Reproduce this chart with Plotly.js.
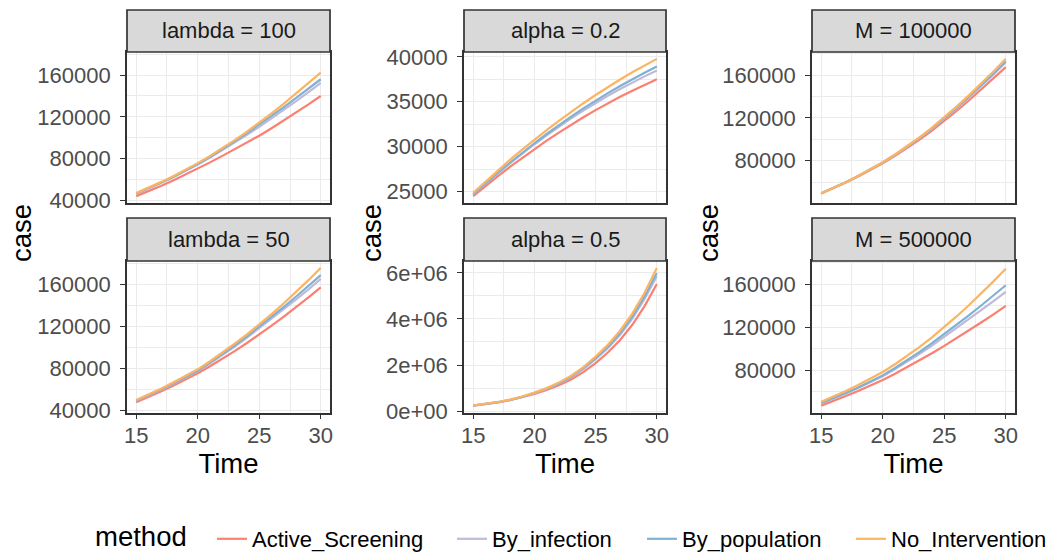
<!DOCTYPE html>
<html><head><meta charset="utf-8">
<script src="https://cdn.plot.ly/plotly-3.0.1.min.js"></script>
<style>html,body{margin:0;padding:0;background:#fff;}#chart{width:1046px;height:552px;}</style>
</head><body><div id="chart"></div>
<script>
const time = [15,16,17,18,19,20,21,22,23,24,25,26,27,28,29,30];
const methods = ['Active_Screening','By_infection','By_population','No_Intervention'];
const methodColors = ['#FB8072','#BEBADA','#80B1D3','#FDB462'];
const legendTitle = 'method';
const facetLabels = ['lambda = 100','lambda = 50','alpha = 0.2','alpha = 0.5','M = 100000','M = 500000'];
const alpha05TickVals = [0, 2000000, 4000000, 6000000];
const alpha05TickText = ['0e+00','2e+06','4e+06','6e+06'];

const lambda100_Active = [44200,48900,53900,59200,64700,70500,76500,82700,89000,95400,102000,109100,116500,124100,131900,140000];
const lambda100_Infection = [46500,51400,56700,62300,68200,74500,81200,88200,95400,102800,110500,118400,126600,135000,143600,152500];
const lambda100_Population = [46800,51700,57000,62600,68600,75000,81900,89100,96600,104400,112500,120800,129400,138100,147000,156000];
const lambda100_None = [47300,52300,57600,63200,69300,75800,82700,90000,97800,106000,114500,123400,132700,142300,152200,162400];

const lambda50_Active = [47500,52400,57600,63100,68900,75000,81700,88800,96200,103900,112000,120400,129100,138100,147400,157000];
const lambda50_Infection = [48800,53800,59200,64900,70800,77000,84400,92200,100400,109000,118000,126900,136100,145500,155100,165000];
const lambda50_Population = [49000,54100,59500,65200,71200,77500,85100,93100,101500,110300,119500,128800,138400,148200,158200,168600];
const lambda50_None = [49500,54700,60300,66200,72300,78800,86500,94700,103200,112100,121500,131400,141800,152600,163800,175500];

const alpha02_Active = [24490,25610,26690,27740,28750,29730,30670,31570,32440,33270,34070,34830,35550,36240,36890,37510];
const alpha02_Infection = [24670,25870,27030,28150,29230,30270,31270,32230,33150,34030,34870,35670,36430,37150,37830,38470];
const alpha02_Population = [24670,25890,27070,28210,29320,30380,31410,32400,33350,34260,35130,35970,36760,37520,38240,38920];
const alpha02_None = [24860,26120,27340,28530,29670,30780,31850,32880,33880,34840,35750,36640,37480,38280,39050,39780];

const alpha05_Active = [235000,295000,371000,467000,589000,740000,910000,1120000,1370000,1690000,2080000,2540000,3090000,3750000,4560000,5520000];
const alpha05_Infection = [238000,300000,379000,480000,607000,770000,955000,1180000,1460000,1820000,2250000,2730000,3310000,4010000,4870000,5860000];
const alpha05_Population = [240000,303000,383000,485000,613000,780000,968000,1200000,1490000,1860000,2300000,2790000,3380000,4100000,4980000,6000000];
const alpha05_None = [245000,310000,392000,497000,630000,800000,995000,1235000,1535000,1910000,2370000,2880000,3490000,4230000,5140000,6220000];

const M100000_Active = [49300,54200,59500,65100,71100,77500,84500,91900,99800,108200,117100,126500,136300,146500,156900,167600];
const M100000_Infection = [49400,54400,59800,65500,71700,78200,85300,93000,101100,109800,119100,128900,139100,149700,160700,172200];
const M100000_Population = [49500,54500,59900,65600,71800,78300,85500,93200,101400,110200,119600,129500,139800,150500,161600,173100];
const M100000_None = [49500,54500,59900,65700,71900,78500,85800,93600,101900,110900,120500,130600,141100,152100,163500,175300];

const M500000_Active = [46800,51100,55700,60500,65500,70800,76600,82700,89000,95600,102500,109500,116800,124300,131900,139800];
const M500000_Infection = [49000,53400,58200,63200,68500,74200,80900,87900,95200,102900,111000,119100,127400,135800,144300,153000];
const M500000_Population = [49300,53800,58600,63700,69200,75000,81900,89200,96900,105000,113500,122200,131100,140200,149500,159100];
const M500000_None = [50500,55300,60500,66100,71900,78200,85400,93200,101600,110500,120000,130000,140500,151400,162700,174500];

// panel data in order: lambda100, lambda50, alpha0.2, alpha0.5, M100000, M500000
const panels = [
  [lambda100_Active, lambda100_Infection, lambda100_Population, lambda100_None],
  [lambda50_Active, lambda50_Infection, lambda50_Population, lambda50_None],
  [alpha02_Active, alpha02_Infection, alpha02_Population, alpha02_None],
  [alpha05_Active, alpha05_Infection, alpha05_Population, alpha05_None],
  [M100000_Active, M100000_Infection, M100000_Population, M100000_None],
  [M500000_Active, M500000_Infection, M500000_Population, M500000_None]
];

const W = 1046, H = 552;
const FONT = 'Liberation Sans, Arial, Helvetica, sans-serif';

function expand(arrs) {
  let lo = Infinity, hi = -Infinity;
  arrs.forEach(a => a.forEach(v => { if (v < lo) lo = v; if (v > hi) hi = v; }));
  const d = (hi - lo) * 0.05;
  return [lo - d, hi + d];
}
const xRange = expand([time]);
const yRanges = [
  expand(panels[0].concat(panels[1])),
  expand(panels[0].concat(panels[1])),
  expand(panels[2]),
  expand(panels[3]),
  expand(panels[4].concat(panels[5])),
  expand(panels[4].concat(panels[5]))
];

const colDom = [[127/W, 330/W], [464/W, 666/W], [812/W, 1015/W]];
const rowDom = [[1 - 203/H, 1 - 52/H], [1 - 412.5/H, 1 - 261/H]];
const stripDom = [[1 - 52/H, 1 - 10/H], [1 - 261/H, 1 - 218/H]];

const gridCommon = {
  showgrid: true, gridcolor: '#EBEBEB', gridwidth: 1.4,
  zeroline: false, showline: true, mirror: true, linecolor: '#333333', linewidth: 1.7,
  ticklen: 5, tickwidth: 1.4, tickcolor: '#333333',
  tickfont: {family: FONT, size: 22, color: '#4D4D4D'},
  fixedrange: true
};

const traces = [];
const layout = {
  width: W, height: H,
  margin: {l: 0, r: 0, t: 0, b: 0, autoexpand: false},
  paper_bgcolor: '#FFFFFF', plot_bgcolor: '#FFFFFF',
  font: {family: FONT, color: '#000000'},
  shapes: [], annotations: [],
  showlegend: true
};

for (let p = 0; p < 6; p++) {
  const col = Math.floor(p / 2), row = p % 2;
  const xn = p === 0 ? 'x' : 'x' + (p + 1);
  const yn = p === 0 ? 'y' : 'y' + (p + 1);
  const xk = p === 0 ? 'xaxis' : 'xaxis' + (p + 1);
  const yk = p === 0 ? 'yaxis' : 'yaxis' + (p + 1);
  const bottom = row === 1;
  layout[xk] = Object.assign({}, gridCommon, {
    domain: colDom[col], anchor: yn, range: xRange,
    tickmode: 'linear', tick0: 0, dtick: 5,
    minor: {tickmode: 'linear', tick0: 0, dtick: 2.5, showgrid: true, gridcolor: '#EBEBEB', gridwidth: 0.7},
    ticks: bottom ? 'outside' : '', showticklabels: bottom, ticklabelstandoff: -3,
    title: bottom ? {text: 'Time', font: {family: FONT, size: 27.5, color: '#000000'}, standoff: 3} : {text: ''}
  });
  let yax = Object.assign({}, gridCommon, {
    domain: rowDom[row], anchor: xn, range: yRanges[p],
    ticks: 'outside', ticklabelstandoff: 5, tickformat: 'd'
  });
  if (p === 3) {
    yax.tickmode = 'array'; yax.tickvals = alpha05TickVals; yax.ticktext = alpha05TickText;
    yax.minor = {tickmode: 'linear', tick0: 0, dtick: 1000000, showgrid: true, gridcolor: '#EBEBEB', gridwidth: 0.7};
  } else if (p === 2) {
    yax.tickmode = 'linear'; yax.tick0 = 0; yax.dtick = 5000;
    yax.minor = {tickmode: 'linear', tick0: 0, dtick: 2500, showgrid: true, gridcolor: '#EBEBEB', gridwidth: 0.7};
  } else {
    yax.tickmode = 'linear'; yax.tick0 = 0; yax.dtick = 40000;
    yax.minor = {tickmode: 'linear', tick0: 0, dtick: 20000, showgrid: true, gridcolor: '#EBEBEB', gridwidth: 0.7};
  }
  layout[yk] = yax;

  // facet strip
  layout.shapes.push({type: 'rect', xref: 'paper', yref: 'paper',
    x0: colDom[col][0], x1: colDom[col][1], y0: stripDom[row][0], y1: stripDom[row][1],
    fillcolor: '#D9D9D9', line: {color: '#333333', width: 1.7}, layer: 'above'});
  layout.annotations.push({xref: 'paper', yref: 'paper',
    x: (colDom[col][0] + colDom[col][1]) / 2, y: (stripDom[row][0] + stripDom[row][1]) / 2,
    xanchor: 'center', yanchor: 'middle', showarrow: false, text: facetLabels[p],
    font: {family: FONT, size: 22, color: '#1A1A1A'}});

  for (let m = 0; m < 4; m++) {
    traces.push({
      x: time, y: panels[p][m], xaxis: xn, yaxis: yn,
      type: 'scatter', mode: 'lines', name: methods[m],
      line: {color: methodColors[m], width: 2.2},
      showlegend: p === 0,
      legend: m === 0 ? 'legend' : 'legend' + (m + 1),
      hoverinfo: 'x+y+name'
    });
  }
}

// y-axis titles ("case") for each column
const caseX = [21/W, 371/W, 708/W];
caseX.forEach(cx => layout.annotations.push({xref: 'paper', yref: 'paper', x: cx, y: 1 - 233/H,
  xanchor: 'center', yanchor: 'middle', showarrow: false, text: 'case', textangle: -90,
  font: {family: FONT, size: 27.5, color: '#000000'}}));

// legend title
layout.annotations.push({xref: 'paper', yref: 'paper', x: 94/W, y: 1 - 536/H,
  xanchor: 'left', yanchor: 'middle', showarrow: false, text: legendTitle, borderpad: 0,
  font: {family: FONT, size: 27.5, color: '#000000'}});

// one legend per method so the entries are spaced like the original
const legendBase = {orientation: 'h', yanchor: 'middle', y: 1 - 539/H, xanchor: 'left',
  font: {family: FONT, size: 22, color: '#000000'}, bgcolor: 'rgba(0,0,0,0)', borderwidth: 0,
  itemclick: false, itemdoubleclick: false};
const legendX = [212/W, 452/W, 642/W, 851/W];
layout.legend = Object.assign({}, legendBase, {x: legendX[0]});
layout.legend2 = Object.assign({}, legendBase, {x: legendX[1]});
layout.legend3 = Object.assign({}, legendBase, {x: legendX[2]});
layout.legend4 = Object.assign({}, legendBase, {x: legendX[3]});

Plotly.newPlot('chart', traces, layout, {displayModeBar: false});
</script>
</body></html>
